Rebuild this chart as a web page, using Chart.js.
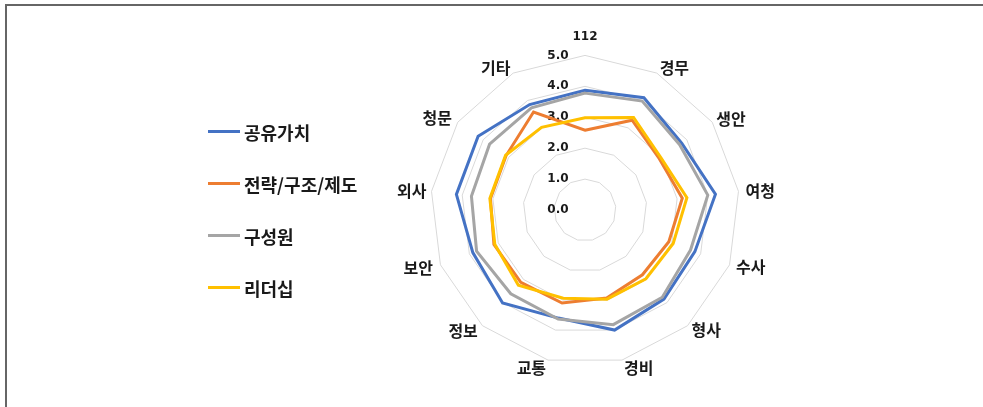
<!DOCTYPE html>
<html>
<head>
<meta charset="utf-8">
<title>조직문화 진단 결과</title>
<script src="https://cdn.jsdelivr.net/npm/chart.js"></script>
<style>
  html, body { margin: 0; padding: 0; background: #fff; }
  #wrap { position: relative; width: 983px; height: 407px; overflow: hidden; }
  #frame {
    position: absolute; left: 5px; top: 4px; width: 1200px; height: 600px;
    border-left: 2px solid #666; border-top: 2px solid #666;
  }
  #chart { position: absolute; left: 0; top: 0; }
  #legend {
    position: absolute; left: 208px; top: 0;
    font-family: 'Noto Sans CJK KR', sans-serif; font-size: 18px; font-weight: bold; color: #1a1a1a;
  }
  .item {
    position: absolute; left: 0; display: flex; align-items: center;
    white-space: nowrap; transform: translateY(-50%);
  }
  .swatch { width: 32px; height: 3px; margin-right: 4px; }
</style>
</head>
<body>
<div id="wrap">
  <div id="frame"></div>
  <canvas id="chart" width="983" height="407"></canvas>
  <div id="legend"></div>
</div>
<script>
// 부서별 조직문화 영역 점수 (5점 척도)
const depts = ['112', '경무', '생안', '여청', '수사', '형사', '경비', '교통', '정보', '보안', '외사', '청문', '기타'];
const seriesNames = ['공유가치', '전략/구조/제도', '구성원', '리더십'];
const sharedValues = [3.87, 4.10, 3.80, 4.25, 3.80, 3.85, 4.00, 3.60, 4.02, 3.88, 4.19, 4.20, 3.85];
const strategy     = [2.58, 3.28, 2.92, 3.17, 2.90, 2.80, 2.93, 3.10, 3.13, 3.15, 3.08, 3.10, 3.58];
const members      = [3.78, 3.98, 3.72, 4.00, 3.65, 3.77, 3.82, 3.63, 3.62, 3.75, 3.70, 3.75, 3.73];
const leadership   = [2.98, 3.38, 2.98, 3.32, 3.05, 2.97, 2.97, 2.94, 3.25, 3.12, 3.10, 3.12, 3.02];
const tickValues = [0, 1, 2, 3, 4, 5];

const colors = ['#4472C4', '#ED7D31', '#A5A5A5', '#FFC000'];
const seriesData = [sharedValues, strategy, members, leadership];

// label offset from the outer ring (Chart.js already adds 8px for the tick font)
const labelPad = [3, -2, -3, -1, -1, -2, 0, 0, -1, 0, -3, -1, -2];

const datasets = seriesNames.map((name, i) => ({
  label: name,
  data: seriesData[i],
  borderColor: colors[i],
  backgroundColor: colors[i],
  borderWidth: 3,
  pointRadius: 0,
  pointHoverRadius: 0,
  tension: 0,
  fill: false,
  order: seriesNames.length - 1 - i   // later series drawn on top
}));

new Chart(document.getElementById('chart'), {
  type: 'radar',
  data: { labels: depts, datasets: datasets },
  options: {
    responsive: false,
    animation: false,
    layout: { padding: { left: 240, right: 53, top: 22, bottom: 24 } },
    plugins: {
      legend: { display: false },
      tooltip: { enabled: false },
      title: { display: false }
    },
    scales: {
      r: {
        min: -0.000001,
        max: 5,
        afterBuildTicks: (scale) => {
          scale.ticks = tickValues.map(v => ({ value: v }));
        },
        angleLines: { display: false },
        grid: { color: '#d9d9d9', lineWidth: 1 },
        ticks: {
          showLabelBackdrop: false,
          color: '#1a1a1a',
          font: { family: 'DejaVu Sans', size: 12, weight: 'bold' },
          // trailing spaces push the value text left of the vertical axis
          callback: (v) => Math.abs(v).toFixed(1) + '\u2003\u2003\u2003\u2003\u2002'
        },
        pointLabels: {
          color: '#1a1a1a',
          padding: (ctx) => labelPad[ctx.index],
          // zero line height keeps the side labels centred on their spoke
          font: (ctx) => ctx.index === 0
            ? { family: 'DejaVu Sans', size: 12, weight: 'bold' }
            : { family: "'Noto Sans CJK KR'", size: 16, weight: 'bold', lineHeight: 0 }
        }
      }
    }
  }
});

// legend on the left
const legend = document.getElementById('legend');
seriesNames.forEach((name, i) => {
  const item = document.createElement('div');
  item.className = 'item';
  item.style.top = (131.5 + 52 * i) + 'px';
  const sw = document.createElement('span');
  sw.className = 'swatch';
  sw.style.background = colors[i];
  const txt = document.createElement('span');
  txt.textContent = name;
  item.appendChild(sw);
  item.appendChild(txt);
  legend.appendChild(item);
});
</script>
</body>
</html>
